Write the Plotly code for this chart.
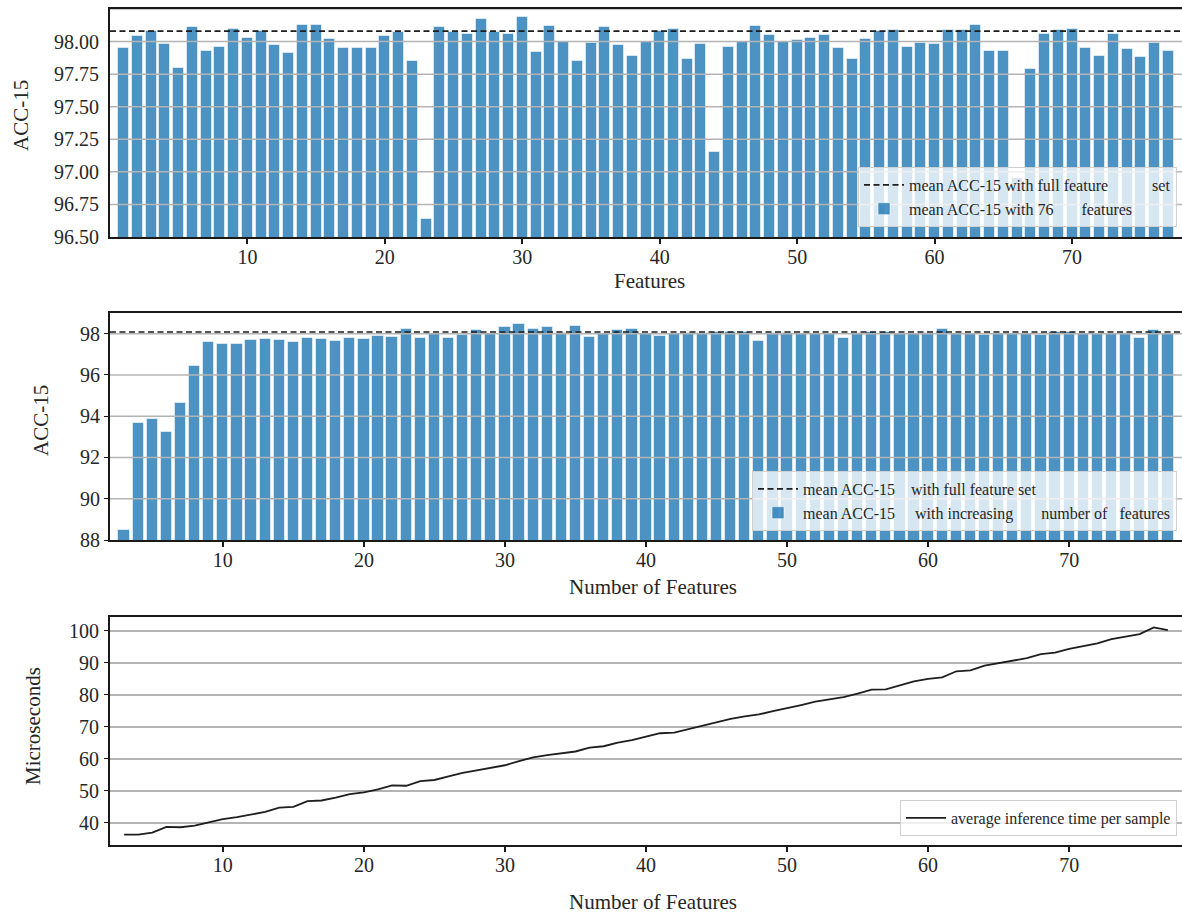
import plotly.graph_objects as go

# ---------------- data ----------------
features_top = list(range(1, 78))
acc_without_feature = [
    97.95, 98.04, 98.08, 97.98, 97.80, 98.11, 97.93, 97.96, 98.10, 98.03,
    98.08, 97.97, 97.91, 98.13, 98.13, 98.02, 97.95, 97.95, 97.95, 98.04,
    98.07, 97.85, 96.64, 98.11, 98.07, 98.06, 98.17, 98.07, 98.06, 98.19,
    97.92, 98.12, 98.00, 97.85, 97.99, 98.11, 97.97, 97.89, 98.00, 98.08,
    98.10, 97.87, 97.98, 97.15, 97.96, 98.00, 98.12, 98.05, 98.00, 98.01,
    98.03, 98.05, 97.95, 97.87, 98.02, 98.08, 98.09, 97.96, 97.99, 97.98,
    98.09, 98.09, 98.13, 97.93, 97.93, 96.95, 97.79, 98.06, 98.09, 98.10,
    97.95, 97.89, 98.06, 97.94, 97.88, 97.99, 97.93,
]

n_features = list(range(3, 78))
acc_increasing = [
    88.50, 93.67, 93.88, 93.25, 94.65, 96.41, 97.60, 97.48, 97.51, 97.69,
    97.76, 97.68, 97.61, 97.80, 97.74, 97.66, 97.77, 97.72, 97.90, 97.85,
    98.23, 97.79, 98.00, 97.80, 97.94, 98.18, 97.98, 98.34, 98.47, 98.23,
    98.34, 98.03, 98.37, 97.82, 98.00, 98.16, 98.21, 98.00, 97.87, 98.00,
    98.02, 98.02, 98.08, 98.08, 98.08, 97.63, 98.02, 98.03, 98.00, 98.00,
    98.00, 97.79, 98.03, 98.10, 98.10, 98.00, 98.00, 98.02, 98.21, 98.00,
    98.00, 97.92, 98.00, 98.00, 98.00, 97.92, 98.08, 98.08, 98.00, 98.00,
    98.00, 98.03, 97.79, 98.16, 97.97,
]

inference_us = [
    36.34, 36.34, 36.97, 38.75, 38.64, 39.16, 40.20, 41.15, 41.78, 42.60,
    43.45, 44.80, 45.00, 46.80, 47.00, 47.90, 49.00, 49.50, 50.45, 51.70,
    51.60, 53.07, 53.40, 54.50, 55.60, 56.40, 57.25, 58.00, 59.30, 60.50,
    61.20, 61.85, 62.30, 63.50, 63.94, 65.09, 65.82, 66.97, 68.00, 68.20,
    69.27, 70.42, 71.57, 72.50, 73.24, 73.87, 74.90, 75.96, 76.80, 77.84,
    78.47, 79.30, 80.35, 81.60, 81.70, 83.05, 84.20, 84.95, 85.47, 87.35,
    87.66, 89.13, 89.86, 90.80, 91.43, 92.68, 93.20, 94.35, 95.08, 96.03,
    97.38, 98.12, 98.95, 101.04, 100.20,
]
n_time = list(range(3, 3 + len(inference_us)))

mean_full = 98.08

x_ticks = [10, 20, 30, 40, 50, 60, 70]
y_ticks_top = [96.50, 96.75, 97.00, 97.25, 97.50, 97.75, 98.00, 98.25]
y_ticks_mid = [88, 90, 92, 94, 96, 98]
y_ticks_bot = [40, 50, 60, 70, 80, 90, 100]

NB = "\u00a0"
lbl_top_full = "mean ACC-15 with full feature" + NB * 11 + "set"
lbl_top_bar = "mean ACC-15 with 76" + NB * 7 + "features"
lbl_mid_full = "mean ACC-15" + NB * 4 + "with full feature set"
lbl_mid_bar = "mean ACC-15" + NB * 5 + "with increasing" + NB * 7 + "number of" + NB * 3 + "features"
lbl_time = "average inference time per sample"

# ---------------- layout helpers ----------------
W, H = 1182, 915
FONT = "Liberation Serif"
TXT = "#262626"
FRAME = "#1a1a1a"
GRID = "#b4b4b4"
BAR = "rgba(31,119,180,0.8)"
BAR_EDGE = "rgba(255,255,255,0.55)"


def px(x):
    return x / W


def py(y):
    return 1 - y / H


x_dom = [px(110), 1.0]
dom_top = [py(237), py(9)]
dom_mid = [py(540), py(313)]
dom_bot = [py(845), py(617)]

fig = go.Figure()

fig.add_trace(go.Bar(
    x=features_top, y=acc_without_feature, width=0.8,
    marker=dict(color=BAR, line=dict(color=BAR_EDGE, width=1)),
    name=lbl_top_bar, legend="legend", legendrank=2, showlegend=True,
    xaxis="x", yaxis="y",
))
fig.add_trace(go.Bar(
    x=n_features, y=acc_increasing, width=0.8,
    marker=dict(color=BAR, line=dict(color=BAR_EDGE, width=1)),
    name=lbl_mid_bar, legend="legend2", legendrank=2, showlegend=True,
    xaxis="x2", yaxis="y2",
))
fig.add_trace(go.Scatter(
    x=n_time, y=inference_us, mode="lines",
    line=dict(color="#1e1e1e", width=1.8),
    name=lbl_time, legend="legend3", showlegend=True,
    xaxis="x3", yaxis="y3",
))

shapes = []
for yr, ticks, lo in (("y", y_ticks_top, 96.5), ("y2", y_ticks_mid, 88)):
    for t in ticks:
        if t <= lo:
            continue
        xr = "x domain" if yr == "y" else "x2 domain"
        shapes.append(dict(type="line", xref=xr, x0=0, x1=1, yref=yr, y0=t, y1=t,
                           line=dict(color=GRID, width=1.5), layer="above"))
shapes.append(dict(type="line", xref="x domain", x0=0, x1=1, yref="y", y0=mean_full, y1=mean_full,
                   line=dict(color="#1e1e1e", width=1.7, dash="6px,3.5px"), layer="above",
                   showlegend=True, name=lbl_top_full, legend="legend", legendrank=1))
shapes.append(dict(type="line", xref="x2 domain", x0=0, x1=1, yref="y2", y0=mean_full, y1=mean_full,
                   line=dict(color="#1e1e1e", width=1.7, dash="6px,3.5px"), layer="above",
                   showlegend=True, name=lbl_mid_full, legend="legend2", legendrank=1))

tickfont = dict(family=FONT, size=20, color=TXT)


def xaxis(rng, anchor):
    return dict(domain=x_dom, range=rng, anchor=anchor, tickvals=x_ticks,
                ticks="outside", ticklen=5, tickwidth=1.5, tickcolor=FRAME,
                showline=True, linecolor=FRAME, linewidth=1.8, mirror=True,
                showgrid=False, zeroline=False, tickfont=tickfont, automargin=False,
                ticklabelstandoff=-4)


def yaxis(dom, rng, ticks, anchor, fmt=None, ticklen=4, grid=False, standoff=1):
    d = dict(domain=dom, range=rng, anchor=anchor, tickvals=ticks,
             ticks="outside", ticklen=ticklen, tickwidth=1.2, tickcolor=FRAME,
             showline=True, linecolor=FRAME, linewidth=1.8, mirror=False,
             showgrid=grid, gridcolor=GRID, gridwidth=1.5, zeroline=False,
             tickfont=tickfont, automargin=False, ticklabelstandoff=standoff)
    if fmt:
        d["tickformat"] = fmt
    return d


legend_common = dict(
    bgcolor="rgba(255,255,255,0.78)", bordercolor="#d0d0d0", borderwidth=1,
    font=dict(family=FONT, size=16, color=TXT), xanchor="right", yanchor="bottom",
    itemwidth=40, tracegroupgap=0, traceorder="normal",
)

title_font = dict(family=FONT, size=21, color=TXT)
annotations = [
    dict(text="ACC-15", x=px(21), y=py(116), textangle=-90),
    dict(text="Features", x=px(649), y=py(281)),
    dict(text="ACC-15", x=px(41), y=py(421), textangle=-90),
    dict(text="Number of Features", x=px(653), y=py(587)),
    dict(text="Microseconds", x=px(33), y=py(726), textangle=-90),
    dict(text="Number of Features", x=px(653), y=py(902)),
]
for a in annotations:
    a.update(xref="paper", yref="paper", showarrow=False, font=title_font,
             xanchor="center", yanchor="middle")

fig.update_layout(
    width=W, height=H, margin=dict(l=0, r=0, t=0, b=0),
    paper_bgcolor="white", plot_bgcolor="white",
    font=dict(family=FONT, color=TXT),
    bargap=0,
    xaxis=xaxis([0, 78], "y"),
    yaxis=yaxis(dom_top, [96.5, 98.25], y_ticks_top, "x", fmt=".2f", ticklen=0, standoff=5),
    xaxis2=xaxis([2, 78], "y2"),
    yaxis2=yaxis(dom_mid, [88, 99], y_ticks_mid, "x2", standoff=0),
    xaxis3=xaxis([2, 78], "y3"),
    yaxis3=yaxis(dom_bot, [33.1, 104.3], y_ticks_bot, "x3", grid=True, standoff=1),
    legend=dict(legend_common, x=px(1177), y=py(227)),
    legend2=dict(legend_common, x=px(1177), y=py(531)),
    legend3=dict(legend_common, x=px(1177), y=py(836)),
    shapes=shapes,
    annotations=annotations,
    showlegend=True,
)

fig.write_html(
    "out.html",
    config={"displayModeBar": False},
    post_script="document.body.style.margin='0px';document.body.style.overflow='hidden';",
)
